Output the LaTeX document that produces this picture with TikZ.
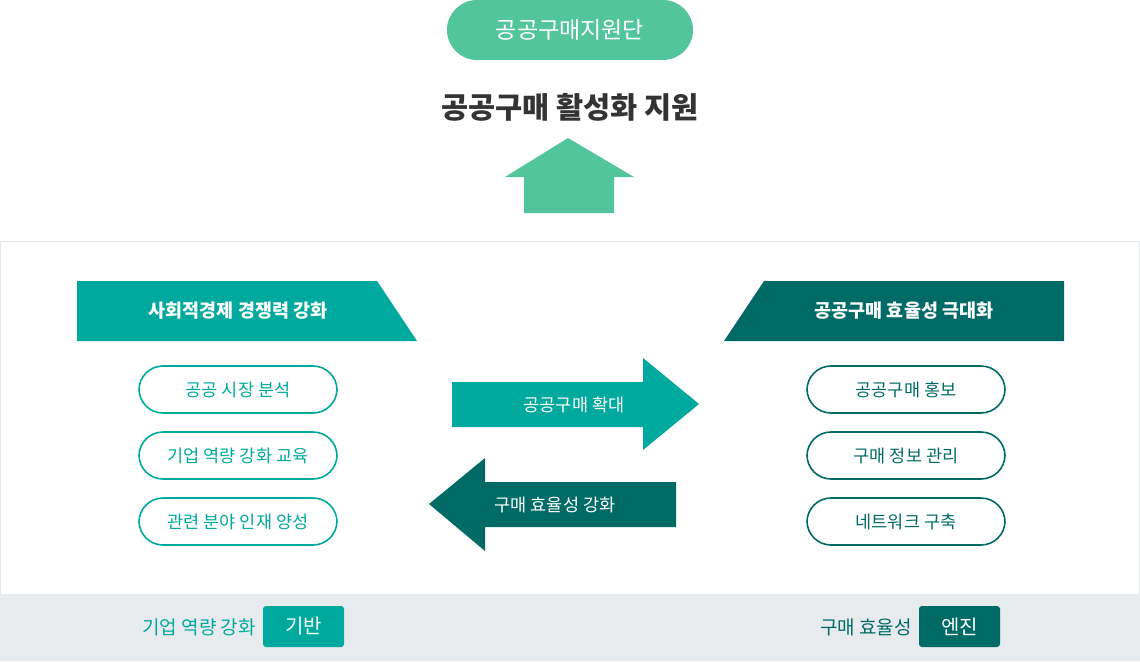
\documentclass[tikz,border=0pt]{standalone}
\usepackage{fontspec}
\setmainfont{Noto Sans CJK KR}
\definecolor{mint}{HTML}{52C59C}
\definecolor{teal}{HTML}{00A99D}
\definecolor{dteal}{HTML}{006B66}
\definecolor{bar}{HTML}{E7EBEE}
\definecolor{edge}{HTML}{E3E7EA}
\definecolor{ink}{HTML}{333333}
\begin{document}
\begin{tikzpicture}[x=1pt,y=-1pt,
  txt/.style={inner sep=0pt,font=\fontsize{17.5}{17.5}\selectfont},
  lpill/.style={draw=teal,line width=1.6pt,rounded corners=24pt,minimum width=198pt,minimum height=47pt,text=teal,font=\fontsize{17.5}{17.5}\selectfont,inner sep=0pt},
  rpill/.style={lpill,draw=dteal,text=dteal},
  tag/.style={rounded corners=3pt,minimum width=81pt,minimum height=41pt,text=white,font=\fontsize{20}{20}\selectfont,inner sep=0pt}]
\useasboundingbox (0,0) rectangle (1140,661);
% top
\node[fill=mint,rounded corners=30pt,minimum width=246pt,minimum height=60pt,text=white,font=\fontsize{23}{23}\selectfont,inner sep=0pt] (org) at (570,30) {공공구매지원단};
\node[txt,text=ink,font=\fontsize{29.5}{29.5}\bfseries\selectfont] (title) at (570,107) {공공구매 활성화 지원};
\fill[mint] (568,138) -- (634,177) -- (614,177) -- (614,213) -- (524,213) -- (524,177) -- (505,177) -- cycle;
% panel
\fill[bar] (0,594) rectangle (1140,661);
\draw[edge,line width=0.8pt] (0.5,594) -- (0.5,241.5) -- (1139.5,241.5) -- (1139.5,594);
% banners
\fill[teal] (77,281) -- (377,281) -- (417,341) -- (77,341) -- cycle;
\node[txt,text=white,font=\fontsize{18.5}{18.5}\bfseries\selectfont] (lhead) at (238,311) {사회적경제 경쟁력 강화};
\fill[dteal] (764,281) -- (1064,281) -- (1064,341) -- (724,341) -- cycle;
\node[txt,text=white,font=\fontsize{18.5}{18.5}\bfseries\selectfont] (rhead) at (904,311) {공공구매 효율성 극대화};
% pills
\node[lpill] (l1) at (238,389.5) {공공 시장 분석};
\node[lpill] (l2) at (238,455.5) {기업 역량 강화 교육};
\node[lpill] (l3) at (238,521.5) {관련 분야 인재 양성};
\node[rpill] (r1) at (906,389.5) {공공구매 홍보};
\node[rpill] (r2) at (906,455.5) {구매 정보 관리};
\node[rpill] (r3) at (906,521.5) {네트워크 구축};
% arrows
\fill[teal] (452,382) -- (643,382) -- (643,358) -- (699,404) -- (643,450) -- (643,427) -- (452,427) -- cycle;
\node[txt,text=white] (ra) at (574,405) {공공구매 확대};
\fill[dteal] (676,482) -- (485,482) -- (485,458) -- (429,504) -- (485,551) -- (485,527) -- (676,527) -- cycle;
\node[txt,text=white] (la) at (555,505) {구매 효율성 강화};
% bottom
\node[tag,fill=teal] (base) at (303.5,626.5) {기반};
\node[txt,anchor=east,text=teal,font=\fontsize{19}{19}\selectfont] (baset) at (256,627) {기업 역량 강화};
\node[tag,fill=dteal] (eng) at (959.5,626.5) {엔진};
\node[txt,anchor=east,text=dteal,font=\fontsize{19}{19}\selectfont] (engt) at (912,627) {구매 효율성};
\end{tikzpicture}
\end{document}
